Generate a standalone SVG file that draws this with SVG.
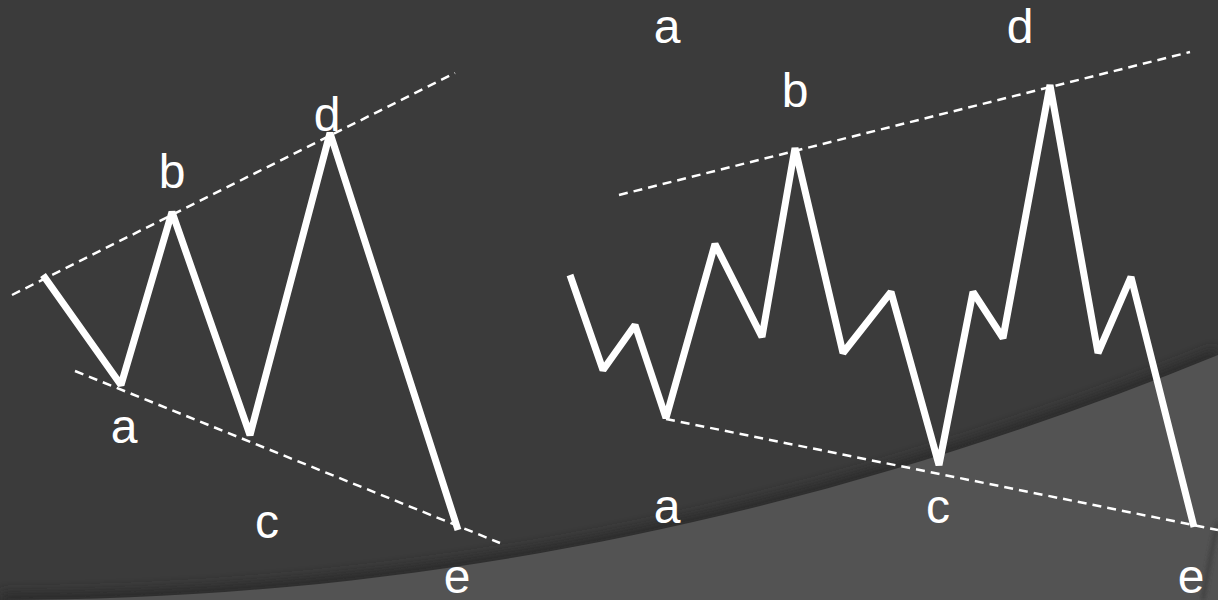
<svg xmlns="http://www.w3.org/2000/svg" width="1218" height="600" viewBox="0 0 1218 600">
<defs>
<filter id="blur" x="-10%" y="-50%" width="120%" height="200%"><feGaussianBlur stdDeviation="6"/></filter>
<filter id="blur2" x="-50%" y="-20%" width="200%" height="140%"><feGaussianBlur stdDeviation="2"/></filter>
</defs>
<style>
.wave{fill:none;stroke:#ffffff;stroke-width:7;stroke-linejoin:bevel;stroke-linecap:butt}
.trend{fill:none;stroke:#ffffff;stroke-width:2.5;stroke-dasharray:9 6}
.lbl{font-family:"Liberation Sans",Arial,sans-serif;font-size:48px;fill:#ffffff;text-anchor:middle}
</style>
<g id="background">
<rect width="1218" height="600" fill="#3b3b3b"/>
<path d="M0,600 C450,600 850,505 1218,355" fill="none" stroke="#2a2a2a" stroke-width="14" filter="url(#blur)"/>
<path d="M0,600 C450,600 850,505 1218,355 L1218,600 Z" fill="#535353"/>
<path d="M1218,522 Q1209,560 1203,600" fill="none" stroke="#3a3a3a" stroke-width="3" filter="url(#blur2)"/>
</g>
<g id="connectors">
<line class="trend" x1="12" y1="295" x2="455" y2="73"/>
<line class="trend" x1="75" y1="371" x2="500" y2="543"/>
<line class="trend" x1="619" y1="195" x2="1190" y2="52"/>
<line class="trend" x1="666" y1="419" x2="1218" y2="530"/>
</g>
<g id="left-wave">
<polyline class="wave" points="43,275 121,385 172,212 250,435 330,133 458,530"/>
</g>
<g id="right-wave">
<polyline class="wave" points="570,275 603,370 635,325 666,418 715,244 762,337 795,148 843,353 891,292 939,465 973,292 1003,338 1050,85 1098,353 1131,277 1194,527"/>
</g>
<g id="left-labels">
<text class="lbl" x="172" y="188">b</text>
<text class="lbl" x="124" y="443">a</text>
<text class="lbl" x="327" y="131">d</text>
<text class="lbl" x="267" y="538">c</text>
<text class="lbl" x="457" y="593">e</text>
</g>
<g id="right-labels">
<text class="lbl" x="667" y="43">a</text>
<text class="lbl" x="795" y="107">b</text>
<text class="lbl" x="1020" y="43">d</text>
<text class="lbl" x="667" y="523">a</text>
<text class="lbl" x="938" y="523">c</text>
<text class="lbl" x="1191" y="593">e</text>
</g>
</svg>
